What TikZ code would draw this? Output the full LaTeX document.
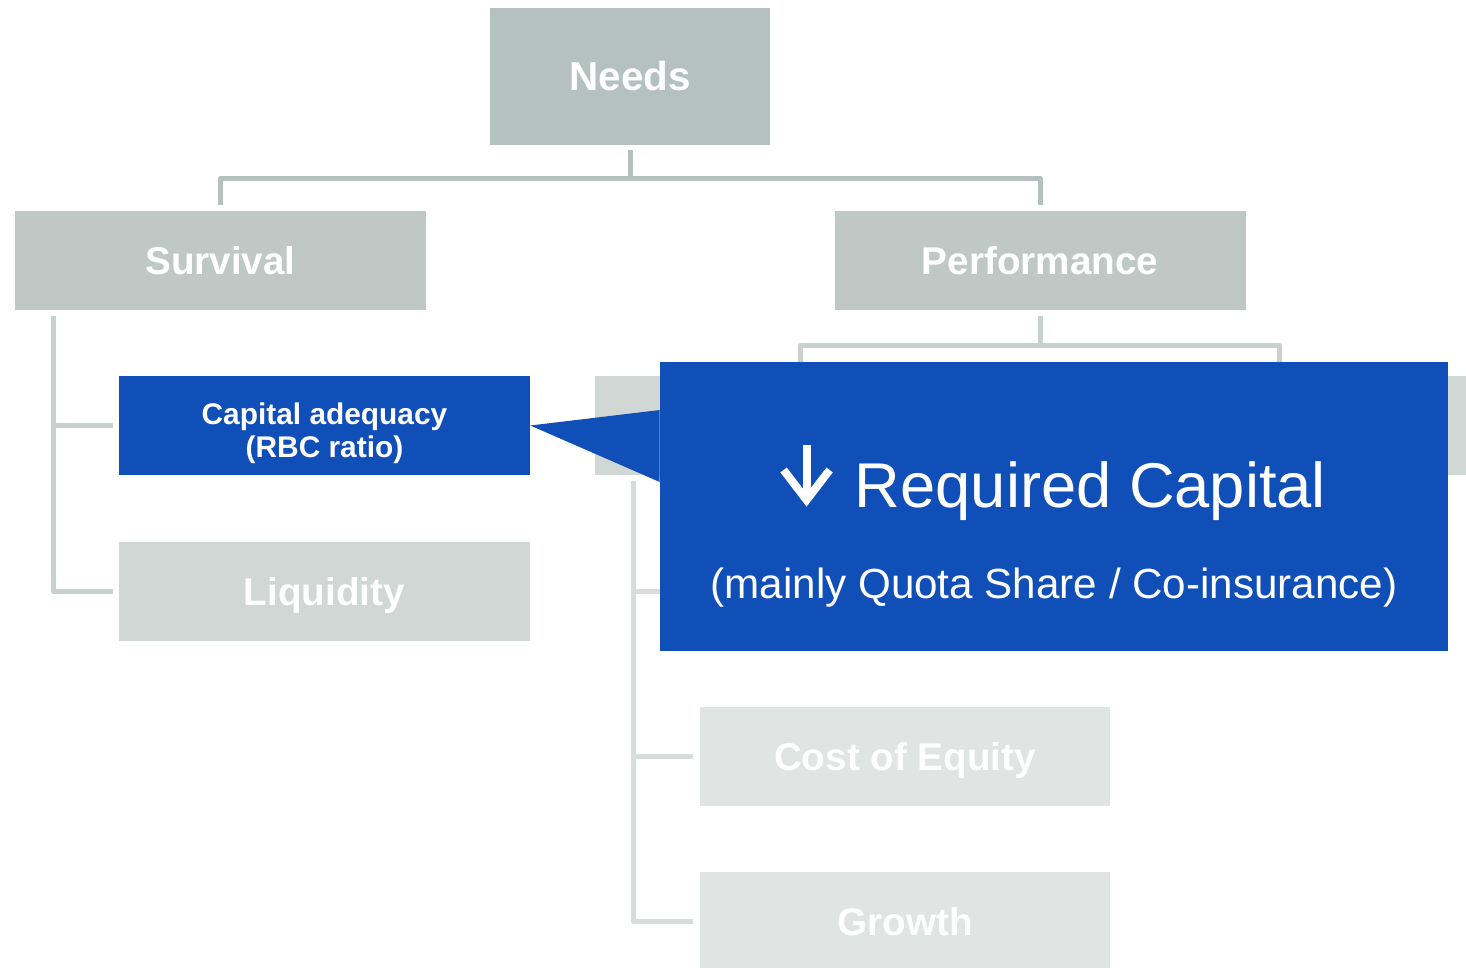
\documentclass[tikz,border=0pt]{standalone}
\usepackage{fontspec}
\setmainfont{Liberation Sans}
\usetikzlibrary{positioning}
\usetikzlibrary{calc}
\definecolor{needsGray}{RGB}{181,193,190}
\definecolor{mainGray}{RGB}{191,200,196}
\definecolor{branchGray}{RGB}{201,209,206}
\definecolor{subGray}{RGB}{208,215,212}
\definecolor{spineGray}{RGB}{216,221,219}
\definecolor{paleGray}{RGB}{224,228,226}
\definecolor{capBlue}{RGB}{17,79,184}
\tikzset{
  font={\fontsize{22pt}{24}\selectfont\bfseries}
}
\def\boxWidth{8.22cm}
\def\boxHeight{1.98cm}
\def\lineWidth{0.1cm}
\tikzstyle{block}=[rectangle,minimum width=\boxWidth,minimum height=\boxHeight,inner sep=0pt,text=white]
\tikzstyle{oneline}=[block,text height=16pt,text depth=0pt]
\tikzstyle{trunk}=[line width=\lineWidth,draw=needsGray,line join=round]
\tikzstyle{branch}=[line width=\lineWidth,draw=branchGray,line join=round]
\tikzstyle{spine}=[line width=\lineWidth,draw=spineGray,line join=round]
\tikzstyle{calloutText}=[font=\fontsize{36pt}{40}\selectfont,text=white,inner sep=0pt]
\tikzstyle{calloutNote}=[font=\fontsize{24pt}{28}\selectfont,text=white,inner sep=0pt]

\begin{document}
\begin{tikzpicture}[x=0.02cm,y=-0.02cm]
    \useasboundingbox (0,0) rectangle (1466,967);
    \clip (0,0) rectangle (1466,967);

    % Top level
    \node[oneline,fill=needsGray,minimum width=5.6cm,minimum height=2.74cm,font={\fontsize{23pt}{24}\selectfont\bfseries}] (needs) at (630,76.5) {Needs};
    \node[oneline,fill=mainGray] (survival) at (220.5,260.5) {Survival};
    \node[oneline,fill=mainGray,right=8.16cm of survival] (performance) {Performance};

    \coordinate (needs-split) at ($(needs.south)+(0,33)$);
    \draw[trunk] ($(needs.south)+(0,5)$) -- (needs-split);
    \draw[trunk] ($(survival.north)+(0,-6)$) |- (needs-split -| performance.north) -- ($(performance.north)+(0,-6)$);

    % Survival side
    \node[block,fill=capBlue,align=center,font={\fontsize{17pt}{19pt}\selectfont\bfseries}] (capital) at (324.5,425.5) {\rule{0pt}{21pt}Capital adequacy\\(RBC ratio)};
    \node[oneline,fill=subGray,below=1.32cm of capital] (liquidity) {Liquidity};
    \coordinate (survival-spine) at ($(survival.south west)+(39,6)$);
    \draw[branch] (survival-spine) |- ($(liquidity.west)+(-6,0)$);
    \draw[branch] (survival-spine |- capital.west) -- ($(capital.west)+(-6,0)$);

    % Performance side
    \node[block,fill=subGray] (perf-left) at (800.5,425.5) {};
    \node[block,fill=subGray,right=1.34cm of perf-left] (perf-right) {};
    \coordinate (perf-split) at ($(performance.south)+(0,35)$);
    \draw[branch] ($(performance.south)+(0,6)$) -- (perf-split);
    \draw[branch] ($(perf-left.north)+(0,-6)$) |- (perf-split -| perf-right.north) -- ($(perf-right.north)+(0,-6)$);

    \node[oneline,fill=paleGray] (cost) at (905,756) {Cost of Equity};
    \node[oneline,fill=paleGray,below=1.32cm of cost] (growth) {Growth};
    \coordinate (perf-spine) at ($(perf-left.south west)+(39,6)$);
    \draw[spine] (perf-spine) |- ($(growth.west)+(-6,0)$);
    \draw[spine] (perf-spine |- cost.west) -- ($(cost.west)+(-6,0)$);
    \draw[spine] (perf-spine |- liquidity.west) -- +(59,0);

    % Callout over the performance side
    \node[fill=capBlue,minimum width=15.76cm,minimum height=5.78cm,inner sep=0pt] (callout) at (1054,506.5) {};
    \fill[capBlue] (capital.east) -- ($(callout.west)+(0,-96.5)$) -- ($(callout.west)+(0,-24.5)$) -- cycle;

    \node[calloutText,anchor=base] (title) at ($(callout.center)+(36.5,0.5)$) {Required Capital};
    \node[calloutNote,anchor=base] (note) at ($(callout.center)+(0,91.5)$) {(mainly Quota Share / Co-insurance)};
    \draw[white,line width=0.16cm] ($(title.base west)+(-48,-62)$) -- ($(title.base west)+(-48,-8)$);
    \draw[white,line width=0.16cm,line join=miter] ($(title.base west)+(-71,-37)$) -- ($(title.base west)+(-48,-7)$) -- ($(title.base west)+(-25,-37)$);
\end{tikzpicture}
\end{document}
